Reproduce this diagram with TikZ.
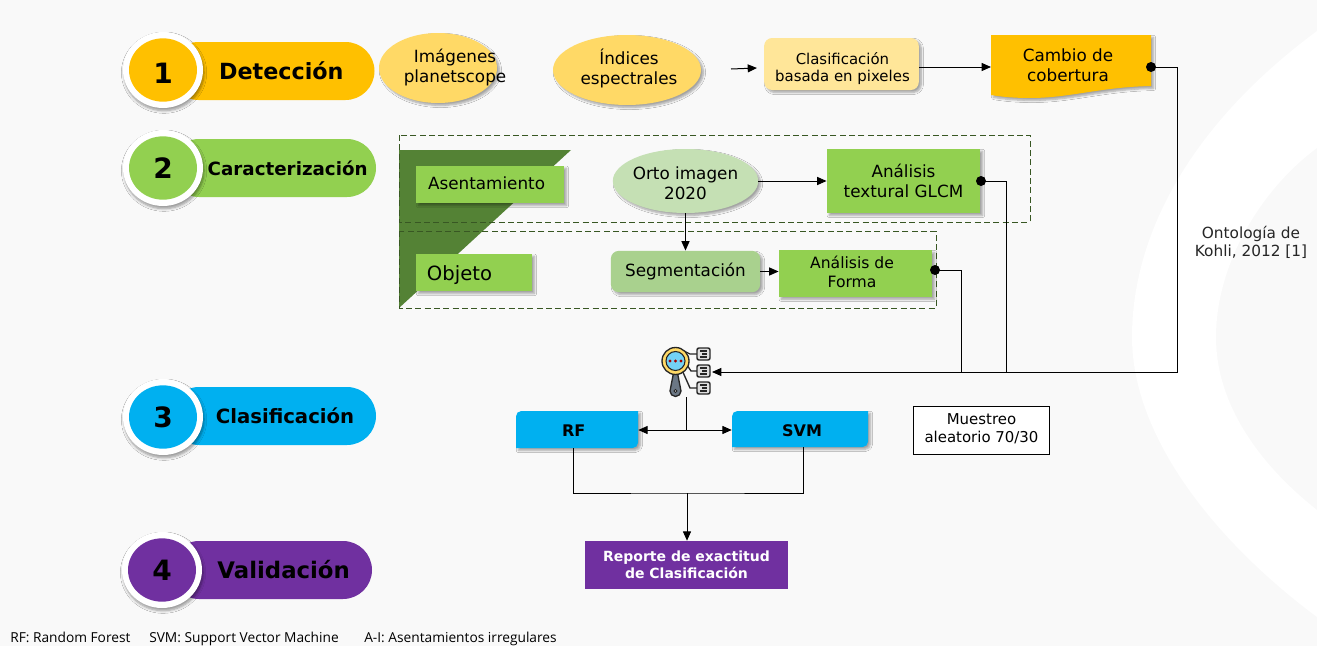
\documentclass[tikz,border=0pt]{standalone}
\usepackage{fontspec}
\setmainfont{DejaVu Sans}
\newfontfamily\footfont{Open Sans}
\usetikzlibrary{shapes.geometric,shapes.misc,shadows.blur,arrows.meta}
\definecolor{amber}{HTML}{FFC000}
\definecolor{sand}{HTML}{FFD966}
\definecolor{paleamber}{HTML}{FFE699}
\definecolor{leaf}{HTML}{92D050}
\definecolor{paleleaf}{HTML}{C5E0B4}
\definecolor{midleaf}{HTML}{A9D18E}
\definecolor{darkleaf}{HTML}{548235}
\definecolor{dashleaf}{HTML}{385723}
\definecolor{sky}{HTML}{00B0F0}
\definecolor{plum}{HTML}{7030A0}
\definecolor{backdrop}{HTML}{F9F9F9}
\definecolor{slate}{HTML}{6B7785}
\tikzset{
  softshadow/.style={blur shadow={shadow xshift=1.8pt,shadow yshift=-1.8pt,shadow blur steps=6,shadow blur radius=1.6pt,shadow opacity=35}},
  pill/.style={rounded rectangle,minimum height=43.5pt,text=black,inner sep=0pt},
  disc/.style={ellipse,fill=white,draw=none,minimum width=60pt,minimum height=57pt,blur shadow={shadow xshift=.8pt,shadow yshift=-2pt,shadow blur steps=6,shadow blur radius=2pt,shadow opacity=40}},
  dischole/.style={ellipse,minimum width=51pt,minimum height=47.5pt,inner sep=0pt,font=\fontsize{21}{21}\selectfont\bfseries},
  stepbox/.style={minimum height=#1,inner sep=0pt,align=center,softshadow},
  blob/.style={ellipse,inner sep=0pt,softshadow},
  tag/.style={align=center,inner sep=0pt,font=\fontsize{12.6}{15}\selectfont},
  smalltag/.style={align=center,inner sep=0pt,font=\fontsize{11.2}{12.75}\selectfont},
  dashzone/.style={draw=dashleaf,dash pattern=on 4.5pt off 2.5pt,line width=.6pt},
  dot/.style={circle,fill=black,inner sep=0pt,minimum size=7.5pt},
  link/.style={draw=black,line width=.75pt},
  arrowlink/.style={link,-{Triangle[length=7pt,width=6pt]}},
  footnote/.style={anchor=base west,inner sep=0pt,font=\footfont\fontsize{10.3}{12}\selectfont}
}
\begin{document}
\begin{tikzpicture}[x=.75pt,y=-.75pt]
  \useasboundingbox (0,0) rectangle (1317,646);
  % background swoosh
  \fill[backdrop] (0,0) rectangle (1317,646);
  \fill[white] (1317,31) .. controls (1190,125) and (1132,235) .. (1132,337)
     .. controls (1132,440) and (1220,545) .. (1317,617)
     -- (1317,510) .. controls (1260,465) and (1216,405) .. (1216,337)
     .. controls (1216,265) and (1260,190) .. (1317,148) -- cycle;

  % dashed zones and triangle
  \fill[darkleaf] (399,150) -- (571,150) -- (399,308) -- cycle;
  \draw[dashzone] (399,135) rectangle (1030,222);
  \draw[dashzone] (399,231) rectangle (936,308);

  % stage pills
  \node[pill,fill=amber,minimum width=153.75pt,font=\fontsize{16.7}{20}\selectfont\bfseries] (p1) at (272,71) {\hspace*{14pt}Detección};
  \node[pill,fill=leaf,minimum width=154.5pt,font=\fontsize{13.7}{18}\selectfont\bfseries] (p2) at (273,168) {\hspace*{22pt}Caracterización};
  \node[pill,fill=sky,minimum width=154.5pt,font=\fontsize{14.75}{18}\selectfont\bfseries] (p3) at (273,416) {\hspace*{18pt}Clasificación};
  \node[pill,fill=plum,minimum width=151.5pt,font=\fontsize{17.1}{20}\selectfont\bfseries] (p4) at (271,570) {\hspace*{19pt}Validación};
  \node[disc] (d1) at (163,70) {};
  \node[disc] (d2) at (163,168) {};
  \node[disc] (d3) at (163,417) {};
  \node[disc] (d4) at (162,570) {};
  \node[dischole,fill=amber,label={[inner sep=0pt,font=\fontsize{21}{21}\selectfont\bfseries,yshift=-2.2pt]center:1}] (n1) at (d1) {};
  \node[dischole,fill=leaf] (n2) at (d2) {2};
  \node[dischole,fill=sky] (n3) at (d3) {3};
  \node[dischole,fill=plum] (n4) at (d4) {4};

  % row 1
  \node[blob,fill=sand,minimum width=88.5pt,minimum height=52.5pt,label={[tag,xshift=12.75pt]center:Imágenes\\planetscope}] (imagenes) at (438,68) {};
  \node[blob,fill=sand,minimum width=111pt,minimum height=52.5pt,label={[tag,xshift=1.5pt,yshift=1.3pt]center:Índices\\espectrales}] (indices) at (627,70) {};
  \coordinate (stub) at (731,69);
  \coordinate (stubend) at (757,68);
  \node[stepbox=39pt,fill=paleamber,minimum width=116pt,rounded corners=6pt,label={[smalltag,xshift=.7pt,yshift=-3.4pt]center:Clasificación\\basada en pixeles}] (pixeles) at (841.5,64) {};
  \draw[arrowlink] (stub) -- (stubend);
  \fill[amber,softshadow] (991,35) -- (1151,35) -- (1151,86)
     .. controls (1100,87) and (1070,98) .. (1030,98)
     .. controls (1015,98) and (1003,97) .. (991,95) -- cycle;
  \node[tag] (cambio) at (1068,65) {Cambio de\\cobertura};
  \coordinate (cambiow) at (991,67);
  \draw[arrowlink] (pixeles.east |- cambiow) -- (cambiow);
  \node[dot] (dot1) at (1151,67) {};

  % row 2
  \node[stepbox=28pt,fill=leaf,minimum width=111pt,label={[tag,xshift=-2.6pt,yshift=.7pt]center:Asentamiento}] (asenta) at (490,184.5) {};
  \node[stepbox=28pt,fill=leaf,minimum width=87pt,label={[tag,font=\fontsize{14.7}{16}\selectfont,xshift=-10.9pt,yshift=-2pt]center:Objeto}] (objeto) at (474,272.5) {};
  \node[blob,fill=paleleaf,minimum width=109pt,minimum height=48pt,label={[tag,yshift=-1.5pt]center:Orto imagen\\2020}] (orto) at (685.5,181) {};
  \node[stepbox=48pt,fill=leaf,minimum width=115pt,font=\fontsize{12.6}{15}\selectfont] (textural) at (903.5,181) {Análisis\\textural GLCM};
  \node[stepbox=31pt,fill=midleaf,minimum width=112pt,rounded corners=6pt,font=\fontsize{12.6}{15}\selectfont] (segmenta) at (685.5,271.5) {Segmentación};
  \node[stepbox=35pt,fill=leaf,minimum width=115pt,label={[tag,font=\fontsize{11.7}{14.2}\selectfont,xshift=-2.6pt,yshift=1.5pt]center:Análisis de\\Forma}] (forma) at (855.5,273.5) {};
  \draw[arrowlink] (orto.east) -- (textural.west |- orto.east);
  \draw[arrowlink] (orto.south) -- (segmenta.north);
  \draw[arrowlink] (segmenta.east) -- (forma.west |- segmenta.east);
  \node[dot] (dot2) at (981,181) {};
  \node[dot] (dot3) at (935,270) {};

  % icon
  \coordinate (iconin) at (712,372);
  \coordinate (iconout) at (686,397);
  \begin{scope}[draw=black!85,line width=1pt]
    \draw (684,351) -- (690,354) -- (697,354) (687,365) -- (691,371) -- (697,371) (682,370) -- (690,388) -- (697,388);
    \fill[slate,draw=black!85] (673.5,373) -- (677.5,373) -- (681,391) arc (0:180:5.5) -- cycle;
    \fill[white,draw=black!85,line width=.7pt] (675.5,391) circle (1.5);
    \draw[fill=sand] (675.5,361) circle (13.5);
    \draw[fill=cyan!55,line width=.8pt] (675.5,361) circle (9.5);
    \foreach \dotx in {670,675.5,681}
      \fill[red!65!black] (\dotx,361) circle (1.6);
    \foreach \docy in {354,371,388} {
      \draw[fill=black!12,rounded corners=1.5pt,line width=1.1pt] (697,\docy-6) rectangle (710,\docy+6);
      \draw[line width=.8pt] (700,\docy-3) -- (707,\docy-3) (702,\docy) -- (707,\docy) (700,\docy+3) -- (707,\docy+3);
    }
  \end{scope}

  % row 3
  \fill[sky,softshadow] (516,448) [rounded corners=4pt] -- (516,411) [sharp corners] -- (638,411) [rounded corners=4pt] -- (638,448) [sharp corners] -- cycle;
  \fill[sky,softshadow] (732,447) [rounded corners=4pt] -- (732,411) [sharp corners] -- (868,411) [rounded corners=4pt] -- (868,447) [sharp corners] -- cycle;
  \node[minimum width=91.5pt,minimum height=28pt,inner sep=0pt,font=\fontsize{12}{14}\selectfont\bfseries] (rf) at (577,431) {RF\hspace*{5pt}};
  \node[minimum width=102pt,minimum height=27pt,inner sep=0pt,font=\fontsize{12}{14}\selectfont\bfseries] (svm) at (800,431) {\hspace*{3pt}SVM};
  \node[draw=black,fill=white,line width=.6pt,minimum width=102.5pt,minimum height=36.5pt,inner sep=0pt,label={[smalltag,font=\fontsize{11.2}{13.5}\selectfont,yshift=1.5pt]center:Muestreo\\aleatorio 70/30}] (muestreo) at (981.5,430.5) {};
  \node[inner sep=0pt,align=center,text=black!85,font=\fontsize{11.5}{13.5}\selectfont] (ontologia) at (1251,242) {Ontología de\\Kohli, 2012 [1]};
  \coordinate (split) at (686,430);
  \draw[link,{Triangle[length=7pt,width=6pt]}-{Triangle[length=7pt,width=6pt]}] (rf.east |- split) -- (svm.west |- split);
  \draw[link] (iconout) -- (split);

  % row 4
  \node[fill=plum,text=white,minimum width=152pt,minimum height=36pt,inner sep=0pt,align=center,font=\fontsize{10.5}{13}\selectfont\bfseries] (reporte) at (686.5,565) {Reporte de exactitud\\de Clasificación};
  \coordinate (rfdown) at (573,448);
  \coordinate (svmdown) at (803,447);
  \coordinate (join) at (687,493);
  \draw[link] (rfdown) |- (join) -| (svmdown);
  \draw[arrowlink] (join) -- (reporte.north -| join);

  % merge lines
  \draw[link] (dot1.center) -| (1177,372) -- (1006,372);
  \draw[link] (dot2.center) -| (1006,372);
  \draw[link] (dot3.center) -| (961,372);
  \draw[arrowlink] (1177,372) -- (iconin);

  % footer
  \node[footnote] (fnrf) at (10,642) {RF: Random Forest};
  \node[footnote] (fnsvm) at (149,642) {SVM: Support Vector Machine};
  \node[footnote] (fnai) at (364,642) {A-I: Asentamientos irregulares};
\end{tikzpicture}
\end{document}
